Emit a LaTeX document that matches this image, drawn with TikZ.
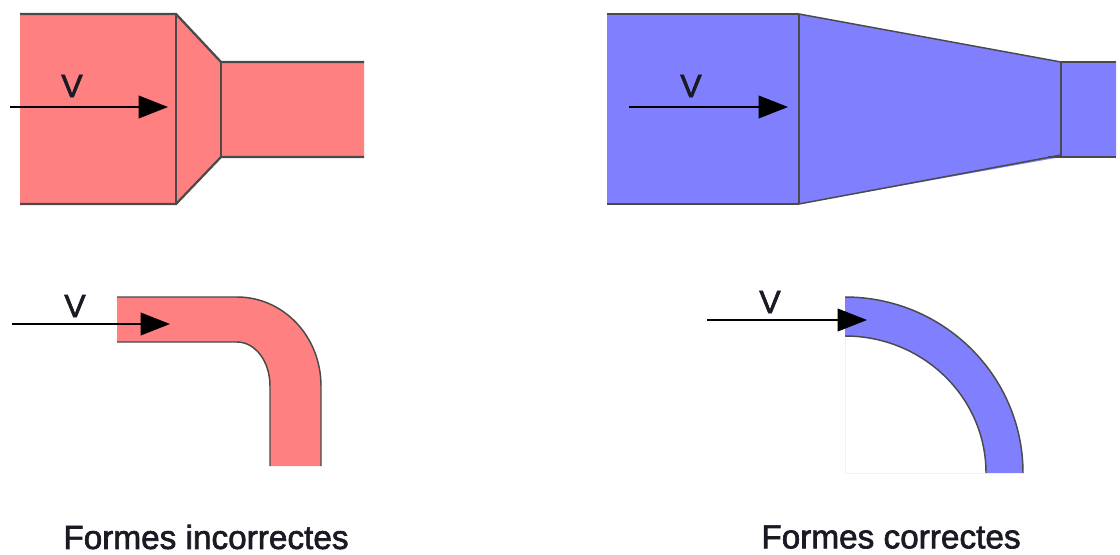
\documentclass[tikz,border=0pt]{standalone}
\usepackage{fontspec}
\setmainfont{Liberation Sans}
\newfontfamily\labelfont{Liberation Sans}[FakeBold=2]
\usetikzlibrary{arrows.meta}
\definecolor{ductred}{HTML}{FF8080}
\definecolor{ductblue}{HTML}{8080FF}
\definecolor{ductline}{HTML}{4A4A4A}
\definecolor{textcol}{HTML}{1A1A24}
\tikzset{
  wall/.style={draw=ductline,line width=1.7pt},
  thinwall/.style={draw=ductline,line width=1.1pt},
  flow/.style={-{Triangle[length=22pt,width=17pt]},draw=black,line width=1.2pt},
  vlabel/.style={font=\labelfont\fontsize{24}{26}\selectfont,text=textcol,inner sep=0pt},
  caption/.style={font=\labelfont\fontsize{25}{28}\selectfont,text=textcol,inner sep=0pt}
}
\begin{document}
\begin{tikzpicture}[x=0.75pt,y=-0.75pt]
  \useasboundingbox (0,0) rectangle (1120,554);
  % convergents droits
  \fill[ductred] (20,14)--(176,14)--(221,62)--(364,62)--(364,157)--(221,157)--(176,204)--(20,204)--cycle;
  \draw[wall] (20,14)--(176,14)--(221,62)--(364,62);
  \draw[wall] (20,204)--(176,204)--(221,157)--(364,157);
  \draw[wall] (176,14)--(176,204);
  \draw[thinwall] (221,62)--(221,157);
  \fill[ductblue] (607,14)--(799,14)--(1061,62)--(1116,62)--(1116,157)--(1061,157)--(799,204)--(607,204)--cycle;
  \draw[wall] (607,14)--(799,14);
  \draw[wall] (607,204)--(799,204);
  \draw[thinwall] (799,14)--(1061,62);
  \draw[thinwall] (799,204)--(1061,155);
  \draw[wall] (1061,62)--(1116,62);
  \draw[wall] (1048,157)--(1116,157);
  \draw[wall] (799,14)--(799,204);
  \draw[thinwall] (1061,62)--(1061,157);
  % coudes
  \fill[ductred] (117,297)--(237,297) .. controls (283.4,297) and (321,336.4) .. (321,386)--(321,466)--(270,466)--(270,386) .. controls (270,361.3) and (255.2,342) .. (237,342)--(117,342)--cycle;
  \draw[thinwall] (117,297)--(237,297) .. controls (283.4,297) and (321,336.4) .. (321,386)--(321,466);
  \draw[thinwall] (117,342)--(237,342) .. controls (255.2,342) and (270,361.3) .. (270,386)--(270,466);
  \draw[blue!6,line width=0.6pt] (845,336)--(845,473)--(986,473);
  \fill[ductblue] (845,297) .. controls (943.3,297) and (1023,375.8) .. (1023,473)--(986,473) .. controls (986,397.3) and (922.9,336) .. (845,336)--cycle;
  \draw[thinwall] (845,297) .. controls (943.3,297) and (1023,375.8) .. (1023,473);
  \draw[thinwall] (845,336) .. controls (922.9,336) and (986,397.3) .. (986,473);
  % vitesses
  \coordinate (redin) at (10,107);
  \coordinate (redout) at (168,107);
  \coordinate (bluein) at (629,107);
  \coordinate (blueout) at (788,107);
  \coordinate (elbowin) at (12,324);
  \coordinate (elbowout) at (170,324);
  \coordinate (bendin) at (707,320);
  \coordinate (bendout) at (867,320);
  \draw[flow] (redin)--(redout);
  \draw[flow] (bluein)--(blueout);
  \draw[flow] (elbowin)--(elbowout);
  \draw[flow] (bendin)--(bendout);
  \node[vlabel] (vred) at (72,86) {V};
  \node[vlabel] (vblue) at (691,86) {V};
  \node[vlabel] (velbow) at (75,306) {V};
  \node[vlabel] (vbend) at (770,302) {V};
  \node[caption] (wrong) at (206,537) {Formes incorrectes};
  \node[caption] (right) at (891,537) {Formes correctes};
\end{tikzpicture}
\end{document}
